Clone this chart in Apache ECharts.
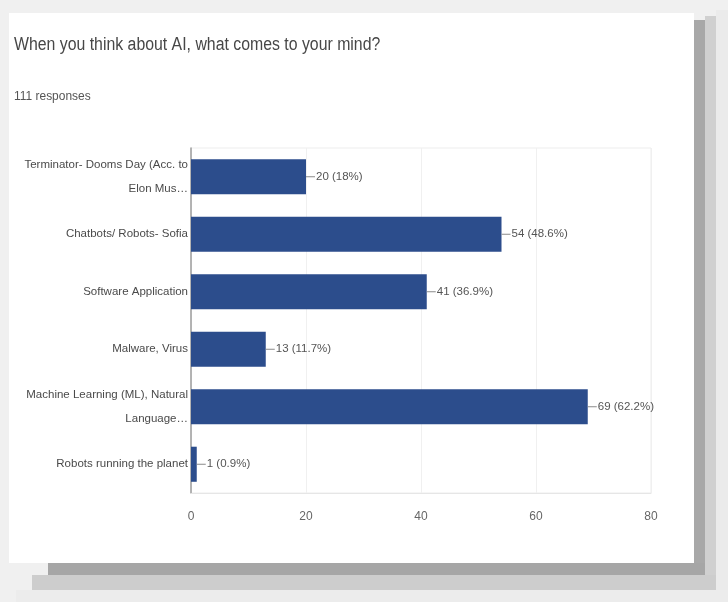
<!DOCTYPE html>
<html>
<head>
<meta charset="utf-8">
<script src="https://cdn.jsdelivr.net/npm/echarts@6/dist/echarts.min.js"></script>
<style>
  html, body { margin: 0; padding: 0; background: #f0f0f0; }
  #chart { width: 728px; height: 602px; }
</style>
</head>
<body>
<div id="chart"></div>
<script>
// Survey answers: "When you think about AI, what comes to your mind?"
const categories = [
  'Terminator- Dooms Day (Acc. to\nElon Mus…',
  'Chatbots/ Robots- Sofia',
  'Software Application',
  'Malware, Virus',
  'Machine Learning (ML), Natural\nLanguage…',
  'Robots running the planet'
];
const counts = [20, 54, 41, 13, 69, 1];
const totalResponses = 111;
const xTicks = [0, 20, 40, 60, 80];

const FONT = '"Liberation Sans", Arial, sans-serif';

function pctText(v) {
  let p = (v / totalResponses * 100).toFixed(1);
  if (p.endsWith('.0')) p = p.slice(0, -2);
  return p + '%';
}

const chart = echarts.init(document.getElementById('chart'), null, { renderer: 'canvas' });

chart.setOption({
  backgroundColor: '#f0f0f0',
  animation: false,
  graphic: [
    // soft drop shadow to the right and below the card
    { type: 'rect', z: -10, shape: { x: 716, y: 10, width: 12, height: 592 }, style: { fill: '#ebebeb' } },
    { type: 'rect', z: -10, shape: { x: 16, y: 590, width: 712, height: 12 }, style: { fill: '#ececec' } },
    { type: 'rect', z: -9, shape: { x: 705, y: 16, width: 11, height: 574 }, style: { fill: '#d0d0d0' } },
    { type: 'rect', z: -9, shape: { x: 32, y: 575, width: 684, height: 15 }, style: { fill: '#cdcdcd' } },
    { type: 'rect', z: -8, shape: { x: 694, y: 20, width: 11, height: 555 }, style: { fill: '#a8a8a8' } },
    { type: 'rect', z: -8, shape: { x: 48, y: 563, width: 657, height: 12 }, style: { fill: '#a6a6a6' } },
    // white card
    { type: 'rect', z: -5, shape: { x: 9, y: 13, width: 685, height: 550 }, style: { fill: '#ffffff' } },
    {
      type: 'text', x: 14, y: 36, scaleX: 0.88,
      style: { text: 'When you think about AI, what comes to your mind?', fill: '#474747', font: '18px ' + FONT }
    },
    {
      type: 'text', x: 14, y: 90, scaleX: 0.92,
      style: { text: totalResponses + ' responses', fill: '#555', font: '13px ' + FONT }
    }
  ],
  grid: {
    left: 191, right: 77, top: 148, bottom: 109, containLabel: false,
    show: true, borderColor: '#ededed', borderWidth: 1, backgroundColor: 'transparent'
  },
  xAxis: {
    type: 'value',
    min: xTicks[0],
    max: xTicks[xTicks.length - 1],
    interval: 20,
    axisLine: { show: true, lineStyle: { color: '#e6e6e6' } },
    axisTick: { show: false },
    axisLabel: { color: '#666', fontFamily: FONT, fontSize: 12, margin: 18 },
    splitLine: { show: true, lineStyle: { color: '#f0f0f0' } }
  },
  yAxis: {
    type: 'category',
    inverse: true,
    data: categories,
    axisLine: { show: true, lineStyle: { color: '#9e9e9e', width: 1.5 } },
    axisTick: { show: false },
    axisLabel: {
      color: '#4a4a4a', fontFamily: FONT, fontSize: 11.5, margin: 3,
      lineHeight: 24, align: 'right'
    },
    splitLine: { show: false }
  },
  series: [{
    type: 'bar',
    data: counts,
    barCategoryGap: '39%',
    itemStyle: { color: '#2c4d8c' },
    label: {
      show: true,
      position: 'right',
      distance: 0,
      color: '#555',
      fontFamily: FONT,
      fontSize: 12,
      formatter: p => '{ln|}{t|' + p.value + ' (' + pctText(p.value) + ')}',
      rich: {
        ln: { width: 9, height: 1, backgroundColor: '#8a8a8a' },
        t: { color: '#555', fontFamily: FONT, fontSize: 11.5, padding: [0, 0, 0, 1] }
      }
    }
  }]
});
</script>
</body>
</html>
